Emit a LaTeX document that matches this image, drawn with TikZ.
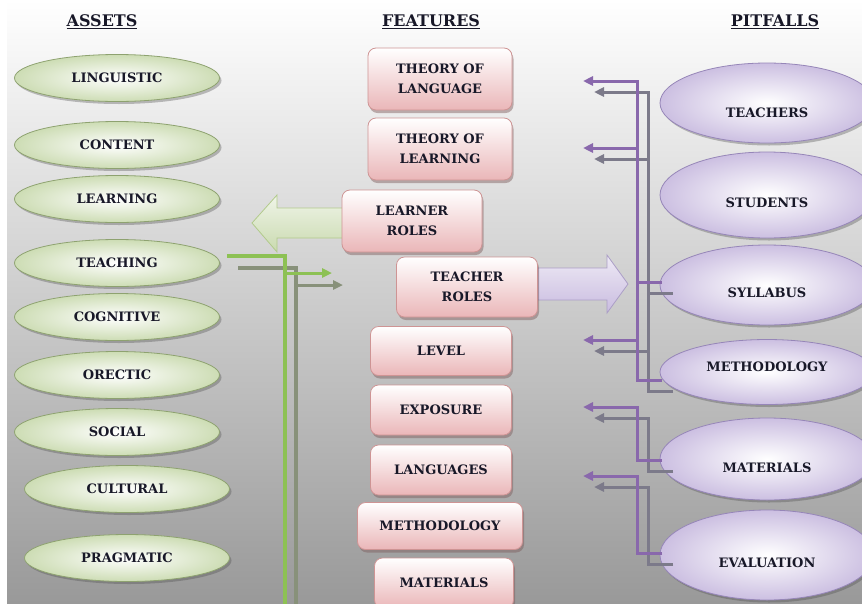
\documentclass[tikz,border=0pt]{standalone}
\usepackage{fontspec}
\setmainfont{DejaVu Serif}
\usetikzlibrary{shapes.geometric,arrows.meta,positioning,calc,shadows}
\definecolor{assetedge}{RGB}{178,202,140}
\definecolor{assetline}{RGB}{141,193,84}
\definecolor{assetgray}{RGB}{136,145,122}
\definecolor{featurepink}{RGB}{234,182,184}
\definecolor{featureedge}{RGB}{206,148,148}
\definecolor{pitfill}{RGB}{198,184,222}
\definecolor{pitedge}{RGB}{150,134,184}
\definecolor{pitline}{RGB}{137,104,172}
\definecolor{pitgray}{RGB}{124,122,138}
\definecolor{textnavy}{RGB}{24,24,40}

\begin{document}
\begin{tikzpicture}[x=1pt,y=-1pt,
  heading/.style={font=\fontsize{16}{18}\selectfont\bfseries,text=textnavy},
  asset/.style={ellipse,draw=assetedge!80!black,line width=0.8pt,inner color=white,outer color=assetedge!65!white,
    minimum width=205pt,minimum height=47pt,font=\fontsize{13}{16}\selectfont\bfseries,text=textnavy,
    drop shadow={shadow xshift=2pt,shadow yshift=-2.5pt,fill=black!70,opacity=.35}},
  feature/.style={rectangle,rounded corners=8pt,draw=featureedge,line width=0.8pt,top color=white,bottom color=featurepink,
    minimum width=141pt,minimum height=50pt,align=center,font=\fontsize{13}{20}\selectfont\bfseries,text=textnavy,
    drop shadow={shadow xshift=1.5pt,shadow yshift=-3pt,fill=featureedge!60!black,opacity=.45}},
  pitfall/.style={ellipse,draw=pitedge,line width=0.8pt,inner color=white,outer color=pitfill!90,minimum width=214pt,
    drop shadow={shadow xshift=2pt,shadow yshift=-2.5pt,fill=black!70,opacity=.35}},
  pittext/.style={font=\fontsize{13}{16}\selectfont\bfseries,text=textnavy},
  tip/.style={-{Triangle[length=10pt,width=9pt]}}
]
\useasboundingbox (0,0) rectangle (862,603);
\clip (0,0) rectangle (862,603);
\fill[white] (0,0) rectangle (862,603);
\shade[top color=white,bottom color=black!40] (7,0) rectangle (862,603);

% headings
\node[heading] (hassets) at (102,22) {\underline{ASSETS}};
\node[heading] (hfeatures) at (431,22) {\underline{FEATURES}};
\node[heading] (hpitfalls) at (775,22) {\underline{PITFALLS}};

% assets
\node[asset] (linguistic) at (117,78) {LINGUISTIC};
\node[asset] (content) at (117,145) {CONTENT};
\node[asset] (learning) at (117,199) {LEARNING};
\node[asset] (teaching) at (117,263) {TEACHING};
\node[asset] (cognitive) at (117,317) {COGNITIVE};
\node[asset] (orectic) at (117,375) {ORECTIC};
\node[asset] (social) at (117,432) {SOCIAL};
\node[asset] (cultural) at (127,489) {CULTURAL};
\node[asset] (pragmatic) at (127,558) {PRAGMATIC};

% block arrows
\draw[draw=assetedge,line width=0.8pt,top color=assetedge!20,bottom color=assetedge!70]
  (343,208) -- (277,208) -- (277,195) -- (252,223) -- (277,252) -- (277,238) -- (343,238) -- cycle;
\draw[draw=pitedge!80,line width=0.8pt,top color=pitfill!30,bottom color=pitfill!95]
  (538,268) -- (607,268) -- (607,255) -- (628,284) -- (607,313) -- (607,300) -- (538,300) -- cycle;

% features
\node[feature,minimum width=144pt,minimum height=62pt] (thlang) at (440,79) {THEORY OF\\LANGUAGE};
\node[feature,minimum width=144pt,minimum height=62pt] (thlearn) at (440,149) {THEORY OF\\LEARNING};
\node[feature,minimum width=140pt,minimum height=62pt] (learner) at (412,221) {LEARNER\\ROLES};
\node[feature,minimum height=60pt] (teacher) at (467,287) {TEACHER\\ROLES};
\node[feature,minimum height=49pt] (level) at (441,351) {LEVEL};
\node[feature] (exposure) at (441,410) {EXPOSURE};
\node[feature] (languages) at (441,470) {LANGUAGES};
\node[feature,minimum width=165pt,minimum height=47pt] (fmethod) at (440,526) {METHODOLOGY};
\node[feature,minimum width=139pt] (fmaterials) at (444,583) {MATERIALS};

% pitfalls
\node[pitfall,minimum height=80pt,label={[pittext,yshift=-10pt]center:TEACHERS}] (teachers) at (767,103) {};
\node[pitfall,minimum height=86pt,label={[pittext,yshift=-8pt]center:STUDENTS}] (students) at (767,195) {};
\node[pitfall,minimum height=80pt,label={[pittext,yshift=-8pt]center:SYLLABUS}] (syllabus) at (767,285) {};
\node[pitfall,minimum height=65pt,label={[pittext,yshift=5pt]center:METHODOLOGY}] (pmethod) at (767,372) {};
\node[pitfall,minimum height=82pt,label={[pittext,yshift=-9pt]center:MATERIALS}] (pmaterials) at (767,459) {};
\node[pitfall,minimum height=90pt,label={[pittext,yshift=-8pt]center:EVALUATION}] (evaluation) at (767,555) {};

% left links
\coordinate (tstart) at (227,256);
\coordinate (tdrop) at (285,612);
\coordinate (tjoin) at (285,273);
\coordinate (ttip) at (332,273);
\foreach \dx/\dy/\c in {11/12/assetgray,0/0/assetline}{
  \draw[line width=4pt,\c] ([shift={(\dx,\dy)}]tstart) -| ([shift={(\dx,\dy)}]tdrop);
  \draw[line width=3pt,\c,tip] ([shift={(\dx,\dy)}]tjoin) -- ([shift={(\dx,\dy)}]ttip);
}

% right links
\coordinate (ptop) at (637,81);
\coordinate (pend) at (662,380);
\coordinate (pt1) at (583,81);
\coordinate (pj2) at (637,148);
\coordinate (pt2) at (583,148);
\coordinate (pj3) at (637,340);
\coordinate (pt3) at (583,340);
\coordinate (ps1) at (637,282);
\coordinate (ps2) at (662,282);
\coordinate (pe4) at (662,460);
\coordinate (pj4) at (637,407);
\coordinate (pt4) at (583,407);
\coordinate (pe5) at (662,553);
\coordinate (pj5) at (637,476);
\coordinate (pt5) at (583,476);
\foreach \dx/\dy/\c in {11/11/pitgray,0/0/pitline}{
  \draw[line width=3pt,\c,tip] ([shift={(\dx,\dy)}]pend) -| ([shift={(\dx,\dy)}]ptop) -- ([shift={(\dx,\dy)}]pt1);
  \draw[line width=3pt,\c,tip] ([shift={(\dx,\dy)}]pj2) -- ([shift={(\dx,\dy)}]pt2);
  \draw[line width=3pt,\c,tip] ([shift={(\dx,\dy)}]pj3) -- ([shift={(\dx,\dy)}]pt3);
  \draw[line width=3pt,\c] ([shift={(\dx,\dy)}]ps1) -- ([shift={(\dx,\dy)}]ps2);
  \draw[line width=3pt,\c,tip] ([shift={(\dx,\dy)}]pe4) -| ([shift={(\dx,\dy)}]pj4) -- ([shift={(\dx,\dy)}]pt4);
  \draw[line width=3pt,\c,tip] ([shift={(\dx,\dy)}]pe5) -| ([shift={(\dx,\dy)}]pj5) -- ([shift={(\dx,\dy)}]pt5);
}
\end{tikzpicture}
\end{document}
